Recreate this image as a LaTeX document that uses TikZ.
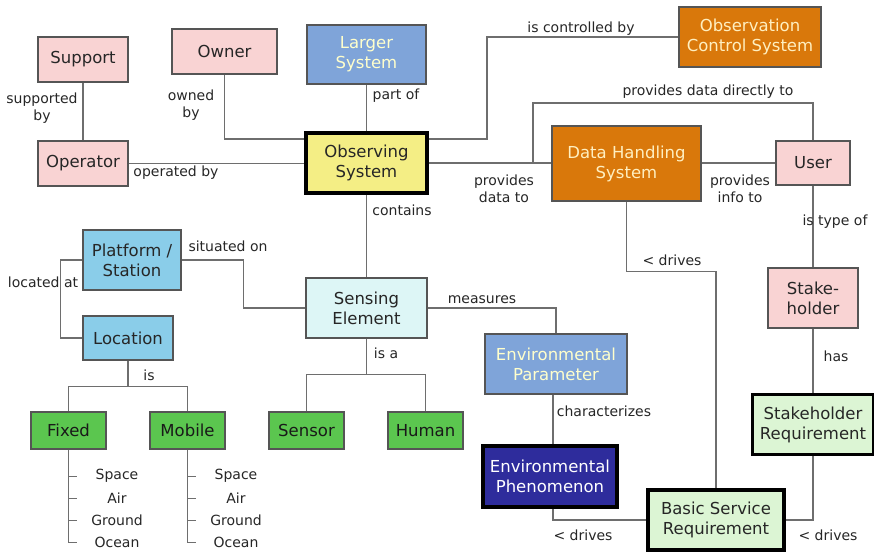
\documentclass[tikz,border=0pt]{standalone}
\usepackage{fontspec}
\setmainfont{DejaVu Sans}

\definecolor{pinkfill}{HTML}{F9D3D3}
\definecolor{bluefill}{HTML}{7FA4D9}
\definecolor{paletext}{HTML}{FFFFCC}
\definecolor{yellowfill}{HTML}{F4EE85}
\definecolor{orangefill}{HTML}{D9780B}
\definecolor{orangetext}{HTML}{FFEFC0}
\definecolor{skyfill}{HTML}{8ACDE9}
\definecolor{cyanfill}{HTML}{DDF6F6}
\definecolor{greenfill}{HTML}{5BC64F}
\definecolor{navyfill}{HTML}{2E2C9C}
\definecolor{mintfill}{HTML}{DCF5D4}
\definecolor{linegray}{HTML}{6E6E6E}
\definecolor{boxgray}{HTML}{555555}

\newcommand{\boxfont}{\fontsize{16.5}{20}\selectfont}
\newcommand{\annotfont}{\fontsize{14}{17}\selectfont}

\begin{document}
\begin{tikzpicture}[x=1pt,y=-1pt]
        \tikzstyle{concept}=[rectangle,draw=boxgray,line width=1.2pt,align=center,inner sep=0pt,font=\boxfont,text=black!85]
        \tikzstyle{pink concept}=[concept,fill=pinkfill,minimum width=90pt,minimum height=45pt]
        \tikzstyle{blue concept}=[concept,fill=bluefill,text=paletext,minimum width=120pt,minimum height=60pt]
        \tikzstyle{orange concept}=[concept,fill=orangefill,text=orangetext]
        \tikzstyle{sky concept}=[concept,fill=skyfill,minimum width=90pt,minimum height=44pt]
        \tikzstyle{green concept}=[concept,fill=greenfill,text=black!90,minimum width=75pt,minimum height=37pt]
        \tikzstyle{key concept}=[concept,draw=black,line width=3.5pt,minimum width=121pt,minimum height=60pt]
        \tikzstyle{annot}=[font=\annotfont,align=center,inner sep=0pt,text=black!85]
        \tikzstyle{item}=[annot]
        \tikzstyle{link}=[draw=linegray,line width=1.7pt]
        \tikzstyle{tick}=[draw=linegray,line width=1pt]

        \useasboundingbox (0,0) rectangle (874,551);

        % Draw the people around the system
        \node[pink concept] (support) at (83,59.5) {Support};
        \node[pink concept, minimum width=105pt] (owner) at (224.5,51.5) {Owner};
        \node[pink concept] (operator) at (83,163.5) {Operator};
        \node[pink concept, minimum width=74pt, minimum height=44pt] (user) at (813,163) {User};
        \node[pink concept, minimum height=60pt] (stake) at (813,298) {Stake-\\holder};

        % Draw the system nodes
        \node[blue concept, minimum width=119pt, minimum height=59pt] (larger) at (366.5,54.5) {Larger\\System};
        \node[key concept, fill=yellowfill] (obs) at (366.5,163) {Observing\\System};
        \node[orange concept, minimum width=142pt, minimum height=60pt] (ocs) at (750,37) {Observation\\Control System};
        \node[orange concept, minimum width=149pt, minimum height=75pt] (dhs) at (626.5,163.5) {Data Handling\\System};

        % Draw the sensing side
        \node[sky concept, minimum width=98pt, minimum height=60pt] (platform) at (132,260) {Platform /\\Station};
        \node[sky concept] (location) at (128,338) {Location};
        \node[concept, fill=cyanfill, minimum width=121pt, minimum height=60pt] (sensing) at (366.5,308) {Sensing\\Element};
        \node[blue concept, minimum width=142pt] (param) at (556,364) {Environmental\\Parameter};
        \node[key concept, fill=navyfill, text=white, minimum width=134pt, minimum height=61pt] (phen) at (550,476.5) {Environmental\\Phenomenon};

        % Draw the leaf nodes
        \node[green concept] (fixed) at (68.5,430.5) {Fixed};
        \node[green concept] (mobile) at (187.5,430.5) {Mobile};
        \node[green concept] (sensor) at (306.5,430.5) {Sensor};
        \node[green concept] (human) at (425.5,430.5) {Human};

        % Draw the requirement nodes
        \node[key concept, fill=mintfill] (streq) at (813,424.5) {Stakeholder\\Requirement};
        \node[key concept, fill=mintfill, minimum width=136pt] (bsr) at (716,520) {Basic Service\\Requirement};

        % Connect the concepts
        \draw[link] (support) -- (operator);
        \draw[link] (owner.south) |- ([yshift=-8pt]obs.north west);
        \draw[link] (operator.east) -- (operator.east -| obs.west);
        \draw[link] (larger) -- (obs);
        \draw[link] ([yshift=-8pt]obs.north east) -- ++(58,0) |- (ocs.west);
        \draw[link] (obs.east) -- (obs.east -| dhs.west);
        \coordinate (direct) at (533,163);
        \draw[link] (direct) -- ++(0,-60) -| (user.north);
        \draw[link] (dhs.east |- user.west) -- (user.west);
        \draw[link] (obs) -- (sensing);
        \draw[link] (platform.east) -- ++(62,0) |- (sensing.west);
        \draw[link] (platform.west) -- ++(-22,0) |- (location.west);
        \draw[link] (location.south) -- ++(0,26) -| (fixed.north);
        \draw[link] (location.south) -- ++(0,26) -| (mobile.north);
        \draw[link] (sensing.south) -- ++(0,36) -| (sensor.north);
        \draw[link] (sensing.south) -- ++(0,36) -| (human.north);
        \draw[link] (sensing.east) -| (param.north);
        \draw[link] ([xshift=-3pt]param.south) -- ([xshift=3pt]phen.north);
        \draw[link] ([xshift=3pt]phen.south) |- (bsr.west);
        \draw[link] (dhs.south) -- ++(0,70) -| (bsr.north);
        \draw[link] (user) -- (stake);
        \draw[link] (stake) -- (streq);
        \draw[link] (streq.south) |- (bsr.east);

        % Draw the kinds of location
        \foreach \branch in {fixed,mobile} {
            \draw[link] (\branch.south) -- ++(0,93) -- ++(8,0);
            \foreach \dy in {27,49,71}
                \draw[tick] (\branch.south) ++(0,\dy) -- ++(8,0);
        }
        \foreach \name / \y in {Space/476,Air/498,Ground/520,Ocean/542} {
            \node[item] (fixed-\name) at (117,\y) {\name};
            \node[item] (mobile-\name) at (236,\y) {\name};
        }

        % Annotate the links
        \node[annot] (l-support) at (42,108) {supported\\by};
        \node[annot] (l-owner) at (191,105) {owned\\by};
        \node[annot] (l-operator) at (176,173) {operated by};
        \node[annot] (l-part) at (396,96) {part of};
        \node[annot] (l-control) at (581,29) {is controlled by};
        \node[annot] (l-direct) at (708,92) {provides data directly to};
        \node[annot] (l-data) at (504,189) {provides\\data to};
        \node[annot] (l-info) at (740,189) {provides\\info to};
        \node[annot] (l-contains) at (402,210) {contains};
        \node[annot] (l-situated) at (228,246) {situated on};
        \node[annot] (l-located) at (43,282) {located at};
        \node[annot] (l-is) at (149,375) {is};
        \node[annot] (l-isa) at (386,353) {is a};
        \node[annot] (l-measures) at (482,300) {measures};
        \node[annot] (l-char) at (604,411) {characterizes};
        \node[annot] (l-drives1) at (583,535) {< drives};
        \node[annot] (l-drives2) at (672,260) {< drives};
        \node[annot] (l-drives3) at (828,535) {< drives};
        \node[annot] (l-type) at (835,222) {is type of};
        \node[annot] (l-has) at (836,356) {has};

\end{tikzpicture}
\end{document}
